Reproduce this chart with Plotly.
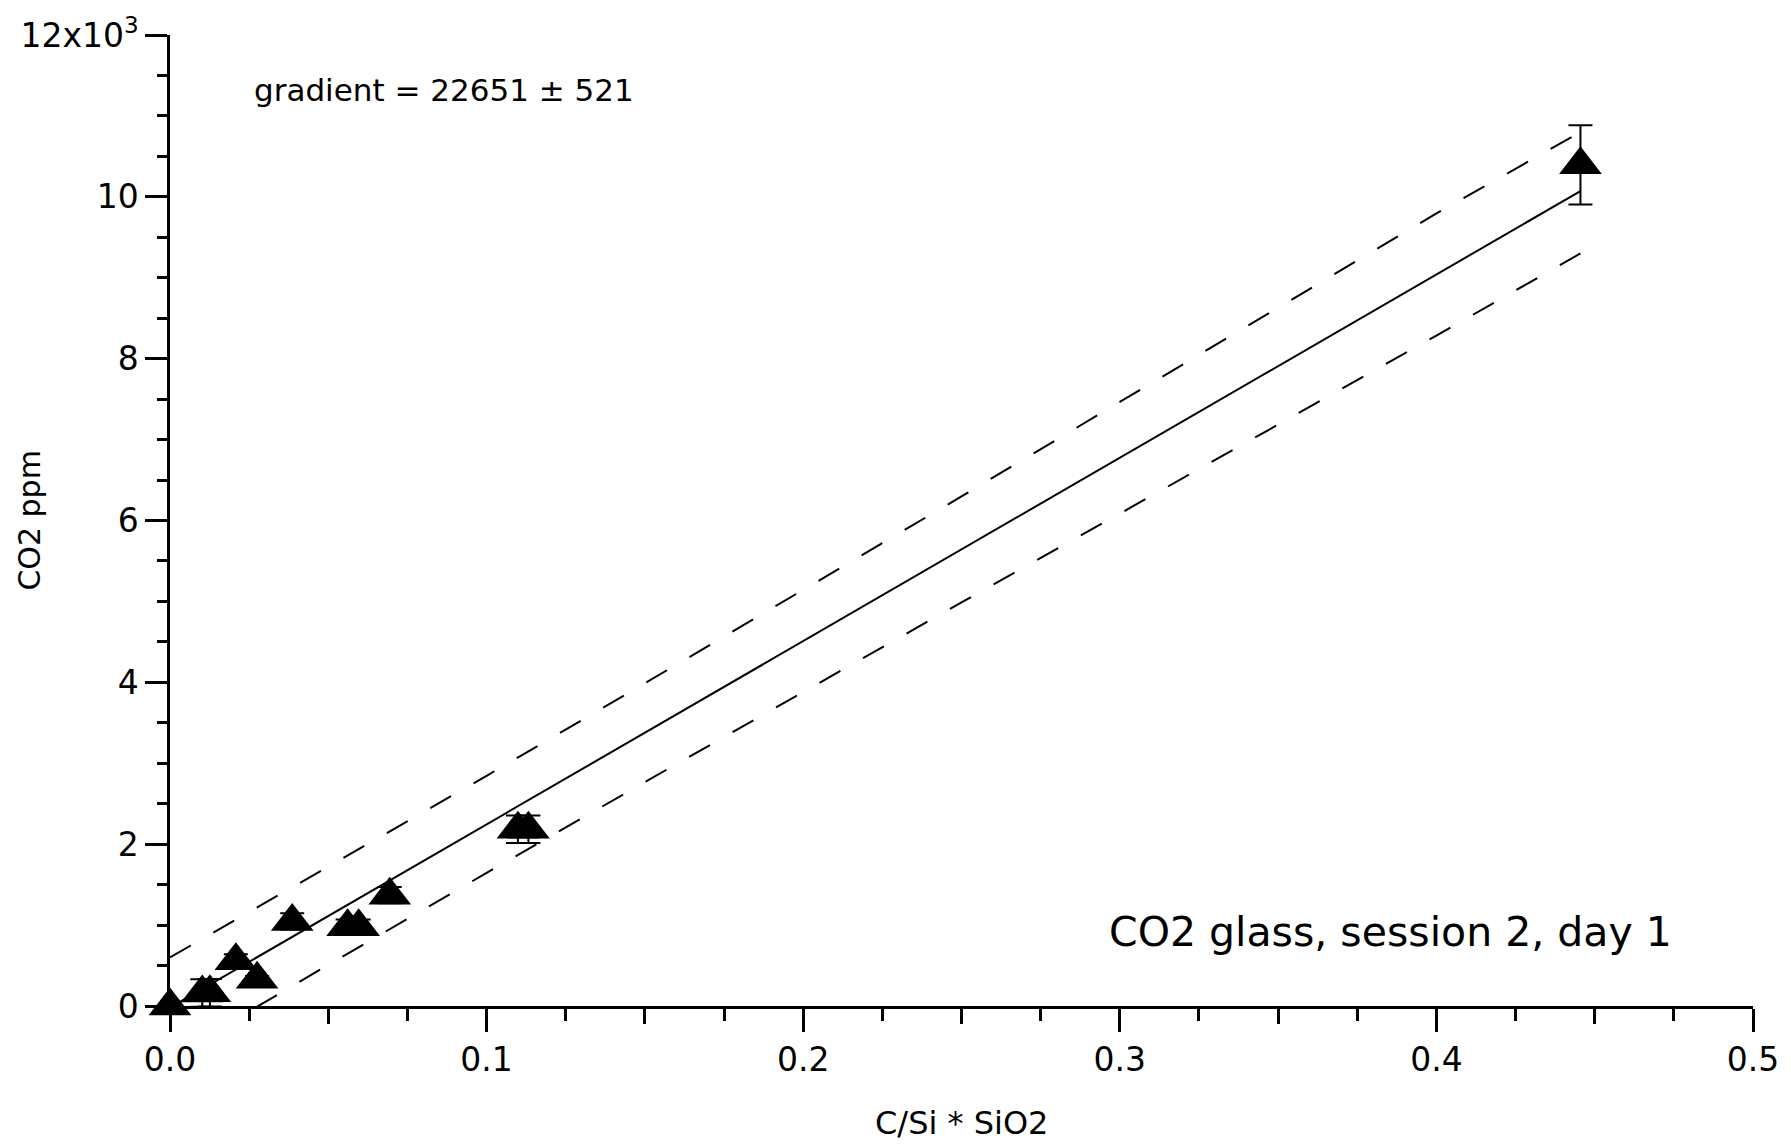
import plotly.graph_objects as go

# ---- data ----
x_vals = [0.0, 0.0102, 0.0126, 0.0208, 0.0275, 0.0386, 0.0561, 0.0596, 0.0694, 0.1099, 0.1132, 0.4455]
y_vals = [0, 160, 165, 560, 330, 1045, 980, 980, 1370, 2185, 2185, 10395]
y_err = [30, 170, 170, 80, 40, 100, 90, 90, 100, 170, 170, 490]

fit_x = [0.0, 0.4455]
fit_y = [-20, 10071]

band_x = [0.0, 0.05, 0.1, 0.15, 0.2, 0.25, 0.3, 0.35, 0.4, 0.4455]
band_upper = [600, 1718, 2845, 3988, 5140, 6298, 7465, 8628, 9795, 10800]
band_lower = [-640, 508, 1645, 2768, 3880, 4988, 6085, 7188, 8285, 9300]

y_tickvals = [0, 2000, 4000, 6000, 8000, 10000, 12000]
y_ticktext = ["0", "2", "4", "6", "8", "10", "12x10<sup>3</sup>"]
x_tickvals = [0.0, 0.1, 0.2, 0.3, 0.4, 0.5]
x_ticktext = ["0.0", "0.1", "0.2", "0.3", "0.4", "0.5"]
x_midticks = [0.05, 0.15, 0.25, 0.35, 0.45]

gradient_text = "gradient = 22651 ± 521"
session_text = "CO2 glass, session 2, day 1"
x_title = "C/Si * SiO2"
y_title = "CO2 ppm"

FONT = "DejaVu Sans"

fig = go.Figure()

fig.add_trace(go.Scatter(x=band_x, y=band_upper, mode="lines",
                         line=dict(color="black", width=2, dash="24px,26px"),
                         showlegend=False, hoverinfo="skip"))
fig.add_trace(go.Scatter(x=band_x, y=band_lower, mode="lines",
                         line=dict(color="black", width=2, dash="24px,26px"),
                         showlegend=False, hoverinfo="skip"))
fig.add_trace(go.Scatter(x=fit_x, y=fit_y, mode="lines",
                         line=dict(color="black", width=2),
                         showlegend=False, hoverinfo="skip"))
fig.add_trace(go.Scatter(x=x_vals, y=y_vals, mode="markers",
                         marker=dict(symbol="triangle-up", size=37, color="black"),
                         error_y=dict(type="data", array=y_err, visible=True,
                                      color="black", thickness=2, width=12),
                         cliponaxis=False, showlegend=False))

# invisible trace on the overlay axis carrying the medium ticks
fig.add_trace(go.Scatter(x=[0, 0.5], y=[0, 0], xaxis="x2", mode="lines",
                         line=dict(width=0), showlegend=False, hoverinfo="skip"))

fig.update_layout(
    width=1791, height=1147,
    margin=dict(l=170, r=31, t=29, b=141),
    paper_bgcolor="white", plot_bgcolor="white",
    font=dict(family=FONT, color="black"),
    xaxis=dict(range=[0, 0.5], showgrid=False, zeroline=False,
               showline=True, linecolor="black", linewidth=2.5,
               ticks="outside", ticklen=23, tickwidth=2.5, tickcolor="black",
               tickvals=x_tickvals, ticktext=x_ticktext,
               tickfont=dict(size=33, family=FONT),
               minor=dict(dtick=0.025, tick0=0, ticks="outside", ticklen=12,
                          tickwidth=2.5, tickcolor="black", showgrid=False)),
    xaxis2=dict(range=[0, 0.5], overlaying="x", anchor="y", side="bottom",
                showgrid=False, zeroline=False, showline=False,
                ticks="outside", ticklen=17, tickwidth=2.5, tickcolor="black",
                tickvals=x_midticks, showticklabels=False),
    yaxis=dict(range=[0, 12000], showgrid=False, zeroline=False,
               showline=True, linecolor="black", linewidth=2.5,
               ticks="outside", ticklen=22, tickwidth=2.5, tickcolor="black",
               tickvals=y_tickvals, ticktext=y_ticktext,
               tickfont=dict(size=33, family=FONT),
               minor=dict(dtick=500, tick0=0, ticks="outside", ticklen=10,
                          tickwidth=2.5, tickcolor="black", showgrid=False)),
    annotations=[
        dict(x=0.0258, y=11315, xref="x", yref="y", text=gradient_text,
             showarrow=False, xanchor="left", yanchor="middle",
             font=dict(size=31, family=FONT)),
        dict(x=0.2959, y=912, xref="x", yref="y", text=session_text,
             showarrow=False, xanchor="left", yanchor="middle",
             font=dict(size=41, family=FONT)),
        dict(x=0.5, y=-0.121, xref="paper", yref="paper", text=x_title,
             showarrow=False, xanchor="center", yanchor="middle",
             font=dict(size=32, family=FONT)),
        dict(x=-0.089, y=0.5, xref="paper", yref="paper", text=y_title,
             showarrow=False, xanchor="center", yanchor="middle", textangle=-90,
             font=dict(size=30, family=FONT)),
    ],
)

fig.write_html("out.html")
